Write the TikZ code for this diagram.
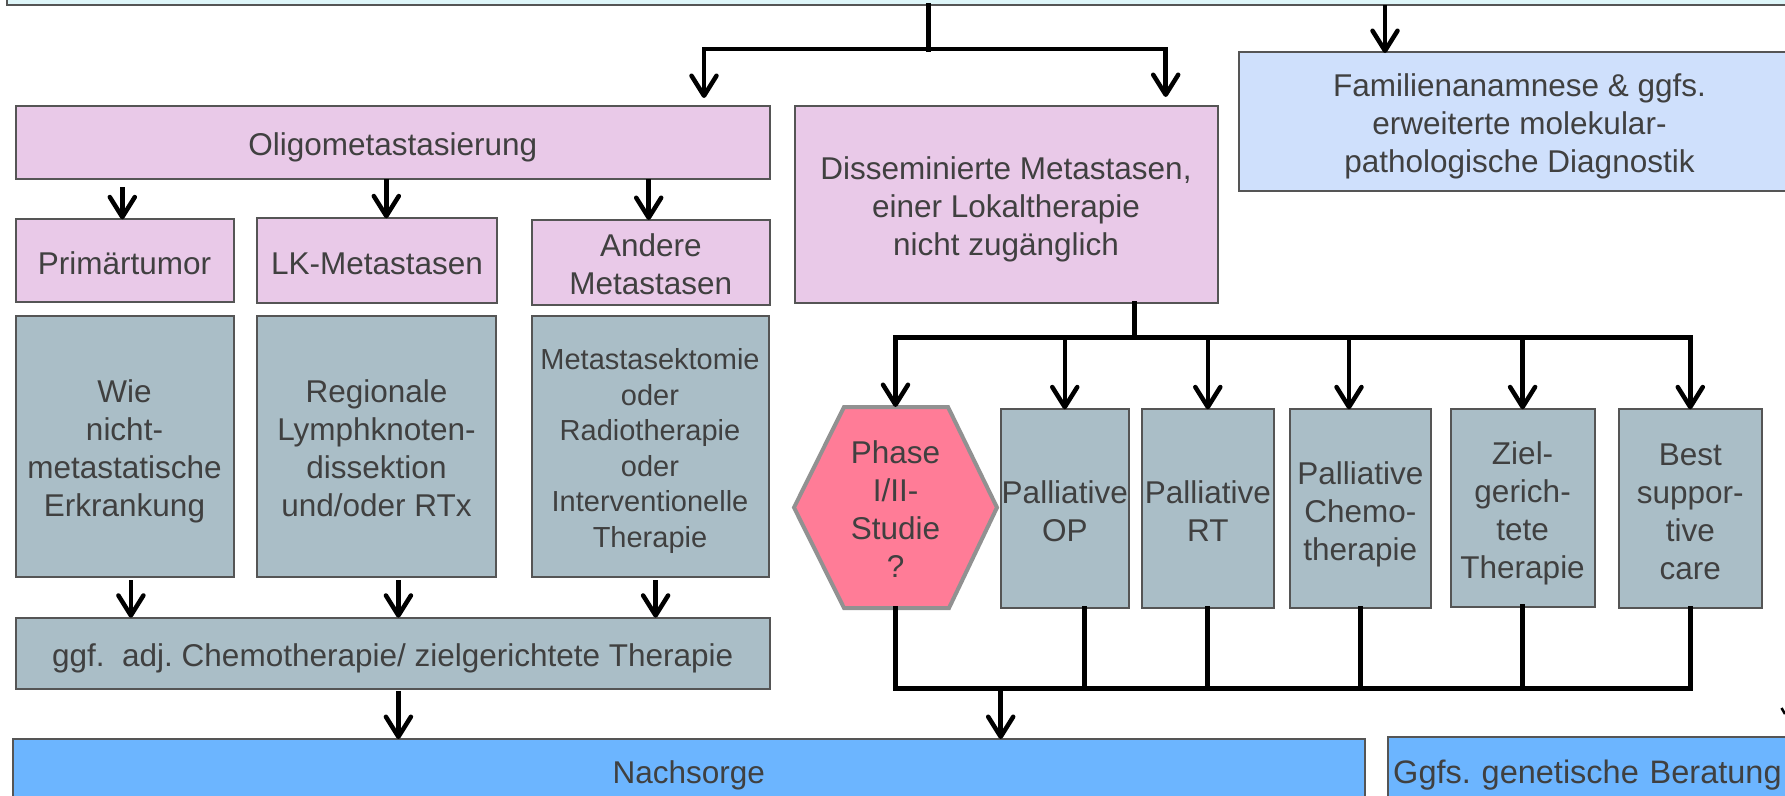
\documentclass[tikz,border=0pt]{standalone}
\usepackage{fontspec}
\setmainfont{Liberation Sans}
\usetikzlibrary{arrows.meta,backgrounds}
\definecolor{txt}{RGB}{64,64,64}
\definecolor{bord}{RGB}{85,85,85}
\definecolor{topfill}{RGB}{222,246,249}
\definecolor{pinkfill}{RGB}{233,201,232}
\definecolor{famfill}{RGB}{207,224,252}
\definecolor{greyfill}{RGB}{170,190,199}
\definecolor{hexfill}{RGB}{255,124,151}
\definecolor{hexbord}{RGB}{145,145,145}
\definecolor{nachfill}{RGB}{108,181,255}
\newcommand\fstrut{\rule{0pt}{1.05em}}
\begin{document}
\frenchspacing
\begin{tikzpicture}[x=1pt,y=-1pt,
  font=\fontsize{31.5}{38}\selectfont,
  txtnode/.style={inner sep=0pt, outer sep=0pt, align=center, text=txt,
    execute at begin node={\rule{0pt}{1.05em}},
    execute at end node={\rule[-0.212em]{0pt}{0.212em}}},
  box/.style={txtnode, draw=bord, line width=2pt},
  pinkbox/.style={box, fill=pinkfill},
  greybox/.style={box, fill=greyfill},
  fambox/.style={box, fill=famfill},
  nachbox/.style={box, fill=nachfill},
  arr/.style={line width=4.5pt, -{Straight Barb[length=20pt,width=25pt,round]}},
  bus/.style={line width=5pt, line cap=rect},
  smallfont/.style={font=\fontsize{29}{35.5}\selectfont}
]
\useasboundingbox (0,0) rectangle (1785,795);
\clip (0,0) rectangle (1785,795);

% top box
\node[draw=bord, line width=2pt, fill=topfill, inner sep=0pt, outer sep=0pt, minimum width=1793pt, minimum height=30pt] (top) at (903.5,-10) {};

% first level
\node[pinkbox, minimum width=754.5pt, minimum height=73pt] (oligo) at (392.75,142.5) {Oligometastasierung};
\node[pinkbox, minimum width=423pt, minimum height=197pt] (dissem) at (1006,204.7) {\fstrut Disseminierte Metastasen,\\einer Lokaltherapie\\nicht zugänglich};
\node[fambox, minimum width=561pt, minimum height=138.4pt] (famil) at (1519.5,121.5) {\fstrut Familienanamnese \& ggfs.\\erweiterte molekular-\\pathologische Diagnostik};

% second level
\node[pinkbox, minimum width=218pt, minimum height=83pt] (prim) at (124.5,260.8) {Primärtumor};
\node[pinkbox, minimum width=240pt, minimum height=85pt] (lk) at (377,260.8) {LK-Metastasen};
\node[pinkbox, minimum width=238.4pt, minimum height=85pt] (andere) at (650.8,262.5) {\fstrut Andere\\Metastasen};

% grey boxes
\node[greybox, minimum width=218pt, minimum height=261pt] (wie) at (124.5,446.5) {\fstrut Wie\\nicht-\\metastatische\\Erkrankung};
\node[greybox, minimum width=239pt, minimum height=261pt] (regio) at (376.5,446.5) {\fstrut Regionale\\Lymphknoten-\\dissektion\\und/oder RTx};
\node[greybox, smallfont, minimum width=237pt, minimum height=261pt] (metek) at (650,446.5) {\fstrut Metastasektomie\\oder\\Radiotherapie\\oder\\Interventionelle\\Therapie};

\node[greybox, minimum width=754.5pt, minimum height=71.6pt] (ggf) at (392.75,653.5) {ggf.\ \ adj. Chemotherapie/ zielgerichtete Therapie};

% palliative row
\node[txtnode, minimum width=203pt, minimum height=201pt] (phase) at (895.5,507.5) {\fstrut Phase\\I/II-\\Studie\\?};
\begin{scope}[on background layer]
\filldraw[fill=hexfill, draw=hexbord, line width=4pt]
  (phase.west) -- ([xshift=50pt]phase.north west) -- ([xshift=-49pt]phase.north east)
  -- (phase.east) -- ([xshift=-48pt]phase.south east) -- ([xshift=50pt]phase.south west) -- cycle;
\end{scope}
\node[greybox, minimum width=128.5pt, minimum height=199pt] (op) at (1064.75,508.8) {\fstrut Palliative\\OP};
\node[greybox, minimum width=131.6pt, minimum height=199pt] (rt) at (1207.8,508.8) {\fstrut Palliative\\RT};
\node[greybox, minimum width=140.6pt, minimum height=199pt] (chemo) at (1360.3,508.8) {\fstrut Palliative\\Chemo-\\therapie};
\node[greybox, minimum width=144.2pt, minimum height=197.5pt] (ziel) at (1522.6,508) {\fstrut Ziel-\\gerich-\\tete\\Therapie};
\node[greybox, minimum width=143.5pt, minimum height=199pt] (best) at (1690.25,508.8) {\fstrut Best\\suppor-\\tive\\care};

% bottom
\node[nachbox, minimum width=1351.6pt, minimum height=62pt] (nach) at (688.8,770) {Nachsorge};
\node[nachbox, font=\fontsize{32.5}{38}\selectfont, anchor=north west, minimum height=66pt, text width=410pt, inner xsep=5.5pt, align=left] (ggfs) at (1387.7,736.7) {Ggfs. genetische Beratung};

% connectors top
\coordinate (j1) at (928.5,49);
\draw[bus] (top.south -| j1) -- (j1);
\coordinate (a1) at (704,98);
\coordinate (a2) at (1165.7,97);
\draw[arr] (j1) -| (a1);
\draw[arr] (j1) -| (a2);
\coordinate (fa) at (1385,53);
\draw[arr] (top.south -| fa) -- (fa);

% oligo to second level
\draw[arr, shorten <=8pt] (122.3,0 |- oligo.south) -- (122.3,0 |- prim.north);
\draw[arr] (386.3,0 |- oligo.south) -- (386.3,0 |- lk.north);
\draw[arr] (648.7,0 |- oligo.south) -- (648.7,0 |- andere.north);

% grey to ggf
\draw[arr, shorten <=3pt] (130.9,0 |- wie.south) -- (130.9,0 |- ggf.north);
\draw[arr, shorten <=3pt] (398.4,0 |- regio.south) -- (398.4,0 |- ggf.north);
\draw[arr, shorten <=3pt] (655.6,0 |- metek.south) -- (655.6,0 |- ggf.north);
\draw[arr, shorten <=2pt] (398.4,0 |- ggf.south) -- (398.4,0 |- nach.north);

% dissem distribution
\coordinate (j2) at (1134,337);
\draw[bus] (dissem.south -| j2) -- (j2);
\draw[bus] (j2 -| phase.north) -- (j2 -| best.north);
\draw[arr] (j2 -| phase.north) -- (phase.north);
\draw[arr] (j2 -| op.north) -- (op.north);
\draw[arr] (j2 -| rt.north) -- (rt.north);
\draw[arr] (1349,0 |- j2) -- (1349,0 |- chemo.north);
\draw[arr] (j2 -| ziel.north) -- (ziel.north);
\draw[arr] (j2 -| best.north) -- (best.north);

% collection
\coordinate (j3) at (1000.7,688);
\draw[bus] (phase.south) -- (phase.south |- j3);
\draw[bus] (1084.5,0 |- op.south) -- (1084.5,0 |- j3);
\draw[bus] (rt.south) -- (rt.south |- j3);
\draw[bus] (chemo.south) -- (chemo.south |- j3);
\draw[bus] (ziel.south) -- (ziel.south |- j3);
\draw[bus] (best.south) -- (best.south |- j3);
\draw[bus] (phase.south |- j3) -- (best.south |- j3);
\draw[arr] (j3) -- (j3 |- nach.north);

% fragment at right edge
\coordinate (edge) at (1785,714);
\draw[line width=2.5pt] (1781.5,708) -- (edge);
\end{tikzpicture}
\end{document}
